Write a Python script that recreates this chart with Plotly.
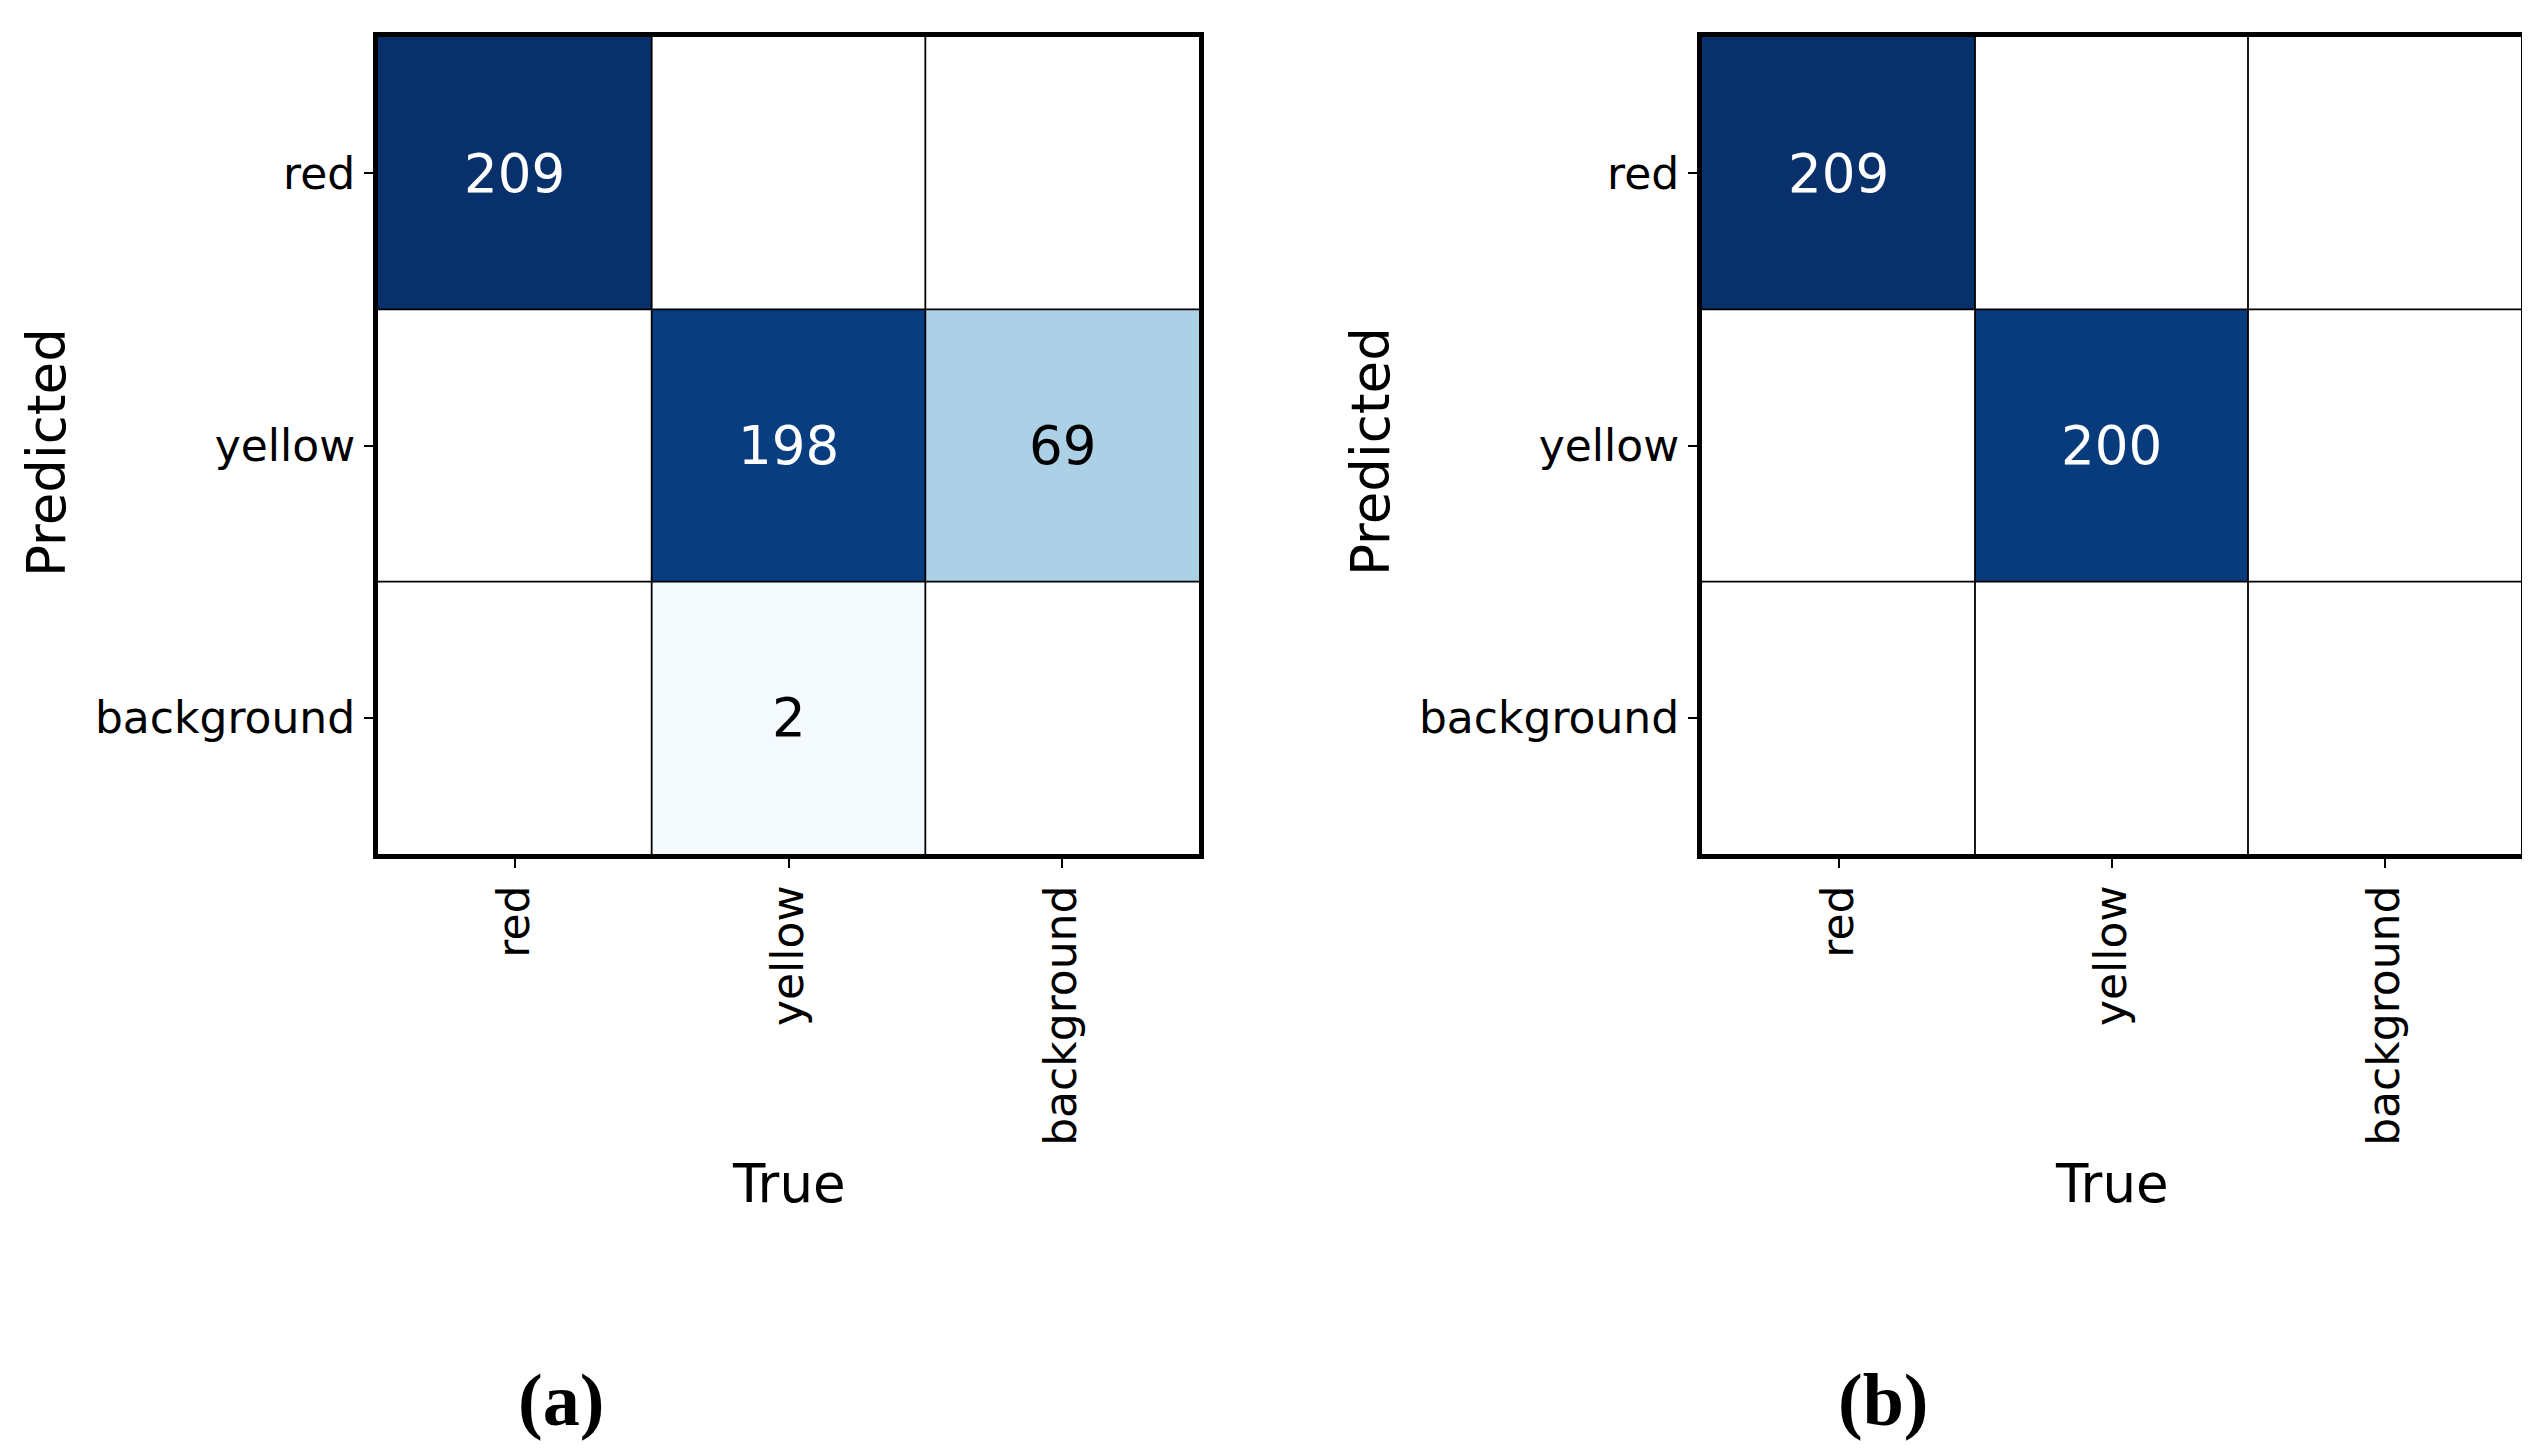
"""
Two confusion matrices (predicted vs true) side by side, Blues colour map,
zero cells left blank.
"""

import plotly.colors as pc
import plotly.graph_objects as go

LABELS = ["red", "yellow", "background"]
# rows = predicted, columns = true
CM_A = [[209, 0, 0], [0, 198, 69], [0, 2, 0]]
CM_B = [[209, 0, 0], [0, 200, 0], [0, 0, 0]]
PANEL_TAGS = ["(a)", "(b)"]

W, H = 2530, 1448
TICK_FONT = dict(family="DejaVu Sans", size=44, color="black")
TITLE_FONT = dict(family="DejaVu Sans", size=53, color="black")
CELL_FONT = 53
TAG_FONT = dict(family="Liberation Serif", size=74, color="black")


def add_matrix(fig, cm, idx, x_domain, y_domain, tag):
    xa = "x" if idx == 1 else f"x{idx}"
    ya = "y" if idx == 1 else f"y{idx}"
    n = len(LABELS)
    flat = [v for row in cm for v in row]
    vmax, vmin = max(flat), min(flat)
    thresh = (vmax + vmin) / 2

    # zeros are masked so they render as blank (white) cells
    z = [[v if v != 0 else None for v in row] for row in cm]
    fig.add_trace(
        go.Heatmap(
            z=z,
            x=LABELS,
            y=LABELS,
            xaxis=xa,
            yaxis=ya,
            colorscale=pc.sequential.Blues,
            zmin=0,
            zmax=vmax,
            showscale=False,
            hoverinfo="skip",
        )
    )

    for r, row in enumerate(cm):
        for c, v in enumerate(row):
            if v == 0:
                continue
            fig.add_annotation(
                x=LABELS[c],
                y=LABELS[r],
                xref=xa,
                yref=ya,
                text=str(v),
                showarrow=False,
                xanchor="center",
                yanchor="middle",
                font=dict(
                    family="DejaVu Sans",
                    size=CELL_FONT,
                    color="white" if v > thresh else "black",
                ),
            )

    # thin cell separators
    for k in range(1, n):
        edge = k - 0.5
        fig.add_shape(
            type="line", xref=xa, yref=ya, x0=edge, x1=edge, y0=-0.5, y1=n - 0.5,
            line=dict(color="black", width=1.8), layer="above",
        )
        fig.add_shape(
            type="line", xref=xa, yref=ya, x0=-0.5, x1=n - 0.5, y0=edge, y1=edge,
            line=dict(color="black", width=1.8), layer="above",
        )

    axis_common = dict(
        showgrid=False,
        zeroline=False,
        showline=True,
        linecolor="black",
        linewidth=5,
        mirror=True,
        ticks="outside",
        ticklen=9,
        tickwidth=1.6,
        tickcolor="black",
        tickfont=TICK_FONT,
    )
    fig.update_layout(
        {
            ("xaxis" if idx == 1 else f"xaxis{idx}"): dict(
                domain=x_domain,
                anchor=ya,
                tickangle=-90,
                range=[-0.5, n - 0.5],
                **axis_common,
            ),
            ("yaxis" if idx == 1 else f"yaxis{idx}"): dict(
                domain=y_domain,
                anchor=xa,
                range=[n - 0.5, -0.5],
                **axis_common,
            ),
        }
    )

    left_px = x_domain[0] * W
    mid = (x_domain[0] + x_domain[1]) / 2
    centred = dict(xref="paper", yref="paper", showarrow=False,
                   xanchor="center", yanchor="middle")
    fig.add_annotation(
        x=(left_px - 331) / W, y=1 - 444 / H,
        text="Predicted", textangle=-90, font=TITLE_FONT, **centred,
    )
    fig.add_annotation(
        x=mid, y=1 - 1175 / H,
        text="True", font=TITLE_FONT, **centred,
    )
    fig.add_annotation(
        x=mid - 228 / W, y=1 - 1392 / H,
        text=f"<b>{tag}</b>", font=TAG_FONT, **centred,
    )


def main():
    fig = go.Figure()
    y_dom = [1 - 846 / H, 1 - 29 / H]
    add_matrix(fig, CM_A, 1, [370 / W, 1191 / W], y_dom, PANEL_TAGS[0])
    add_matrix(fig, CM_B, 2, [1694 / W, 2513 / W], y_dom, PANEL_TAGS[1])
    fig.update_layout(
        width=W,
        height=H,
        margin=dict(l=0, r=0, t=0, b=0),
        paper_bgcolor="white",
        plot_bgcolor="white",
        showlegend=False,
    )
    fig.write_html("out.html")


if __name__ == "__main__":
    main()
